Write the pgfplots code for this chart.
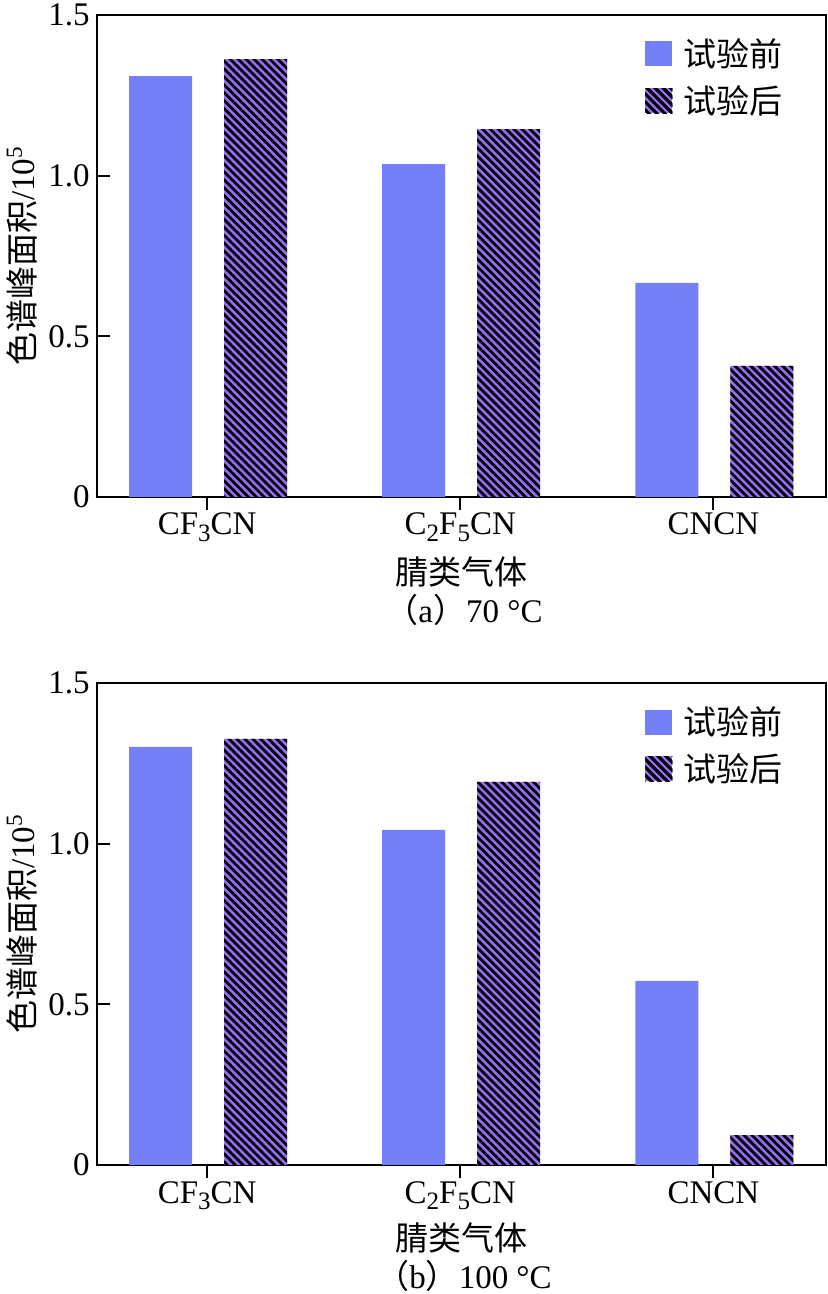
\documentclass[border=0pt]{standalone}
\usepackage{pgfplots}
\pgfplotsset{compat=1.18}
\usepackage{pgfplotstable}
\usepackage{fontspec}
\setmainfont{Liberation Serif}
\newfontfamily\cjk{Noto Sans CJK SC}
\usetikzlibrary{patterns.meta}
\definecolor{barblue}{RGB}{116,128,248}
\definecolor{barpurp}{RGB}{150,110,250}
\newcommand\sub[1]{\raisebox{-0.4ex}{\fontsize{12.5}{12.5}\selectfont #1}}
\tikzset{hatch/.style={postaction={pattern={Lines[angle=-45,distance=2.8pt,line width=1.4pt]}, pattern color=black}}}

\pgfplotstableread{
x before after
0 1.310 1.363
1 1.036 1.145
2 0.666 0.408
}\dataA
\pgfplotstableread{
x before after
0 1.301 1.326
1 1.043 1.192
2 0.573 0.093
}\dataB

\pgfplotsset{
 mystyle/.style={
  width=364.5pt, height=241pt, scale only axis,
  ymin=0, ymax=1.5, xmin=-0.435, xmax=2.445,
  ytick={0,0.5,1,1.5}, yticklabels={0,0.5,1.0,1.5},
  xtick={0,1,2}, xticklabels={CF\sub{3}CN, C\sub{2}F\sub{5}CN, CNCN},
  tick pos=left, tick align=inside, major tick length=6.5pt,
  tick style={line width=1pt, black},
  axis line style={line width=1pt},
  ylabel={{\cjk 色谱峰面积}/10\textsuperscript{5}},
  ylabel style={at={(axis description cs:-0.103,0.5)}, anchor=center},
  yticklabel style={anchor=east, inner sep=0pt, xshift=-3.5pt},
  xticklabel style={anchor=base, inner sep=0pt, yshift=-12.5pt},
  ybar, bar width=31.5pt,
  legend style={at={(0.7517,0.952)}, anchor=north west, draw=none, fill=none,
    inner sep=0pt, nodes={inner sep=0pt, anchor=west}, row sep=8pt, column sep=5.5pt},
  legend cell align=left,
 },
 beforestyle/.style={fill=barblue, draw=none, bar shift=-23.25pt,
   legend image code/.code={\path[fill=barblue] (0pt,-6.25pt) rectangle (13.5pt,6.25pt);}},
 afterstyle/.style={fill=barpurp, draw=none, bar shift=24.25pt, hatch,
   legend image code/.code={\path[fill=barpurp, hatch] (0pt,-6.25pt) rectangle (13.5pt,6.25pt);}},
}

\begin{document}
\begin{tikzpicture}[font=\fontsize{16.5}{19.8}\selectfont]
\useasboundingbox (0pt,0pt) rectangle (413.5pt,647pt);
\begin{axis}[mystyle, at={(48.5pt,398.5pt)}, anchor=south west]
\addplot[beforestyle] table[x=x, y=before] {\dataA};
\addplot[afterstyle] table[x=x, y=after] {\dataA};
\legend{{\cjk 试验前},{\cjk 试验后}}
\end{axis}
\begin{axis}[mystyle, at={(48.5pt,64.5pt)}, anchor=south west]
\addplot[beforestyle] table[x=x, y=before] {\dataB};
\addplot[afterstyle] table[x=x, y=after] {\dataB};
\legend{{\cjk 试验前},{\cjk 试验后}}
\end{axis}
\node at (230.5pt,361pt) {\cjk 腈类气体};
\node at (232pt,342pt) {{\cjk （}a{\cjk ）}70 °C};
\node at (230.5pt,28pt) {\cjk 腈类气体};
\node at (232pt,9pt) {{\cjk （}b{\cjk ）}100 °C};
\end{tikzpicture}
\end{document}
